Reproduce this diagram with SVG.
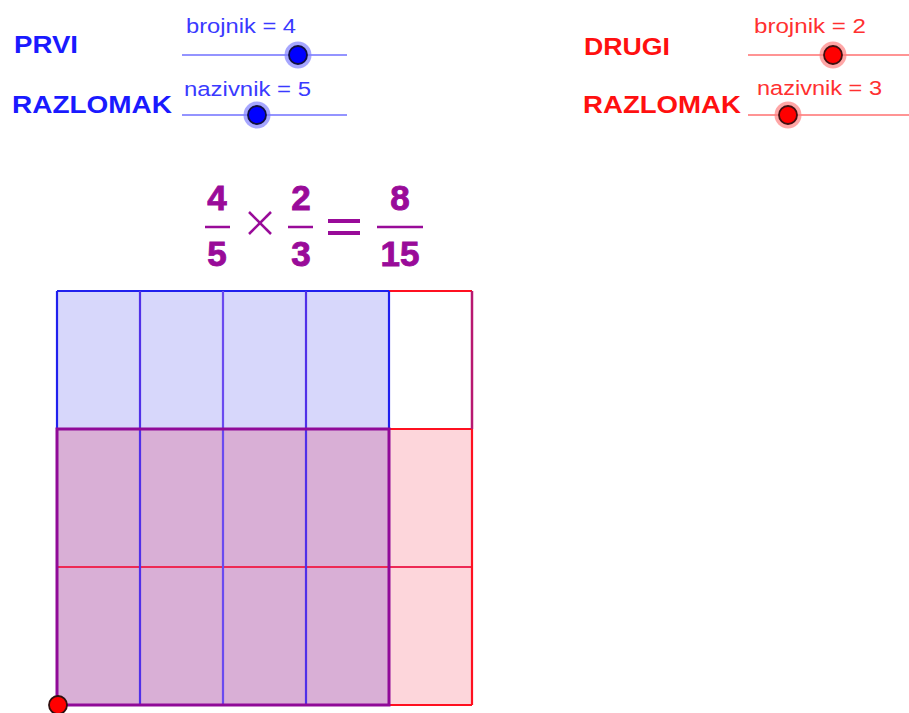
<svg xmlns="http://www.w3.org/2000/svg" width="909" height="713" viewBox="0 0 909 713">
<style>
.title{font-family:"Liberation Sans",Arial,sans-serif;font-weight:bold;font-size:23px}
.lbl{font-family:"Liberation Sans",Arial,sans-serif;font-size:20.5px}
.blue{fill:#1a1aff}
.red{fill:#ff1010}
.sb{stroke:#7070ff;stroke-width:1.5}
.sr{stroke:#ff7070;stroke-width:1.5}
.math{font-family:"Liberation Sans",Arial,sans-serif;font-weight:bold;font-size:35px;fill:#990b99;stroke:#990b99;stroke-width:0.9;text-anchor:middle}
.bar{stroke:#990b99;stroke-width:2.5}
</style>
<rect width="909" height="713" fill="#ffffff"/>

<g id="prvi-label">
<text class="title blue" x="14" y="53" textLength="64" lengthAdjust="spacingAndGlyphs">PRVI</text>
<text class="title blue" x="12" y="113" textLength="160" lengthAdjust="spacingAndGlyphs">RAZLOMAK</text>
</g>
<g id="drugi-label">
<text class="title red" x="584" y="55" textLength="86" lengthAdjust="spacingAndGlyphs">DRUGI</text>
<text class="title red" x="583" y="113" textLength="158" lengthAdjust="spacingAndGlyphs">RAZLOMAK</text>
</g>

<g id="slider-brojnik1">
<line class="sb" x1="182" y1="55" x2="347" y2="55"/>
<text class="lbl" x="186" y="33" fill="#3a3aff" textLength="110" lengthAdjust="spacingAndGlyphs">brojnik = 4</text>
<circle cx="298" cy="55" r="13.5" fill="#8080ff" opacity="0.7"/>
<circle cx="298" cy="55" r="9" fill="#0000ff" stroke="#101040" stroke-width="1.8"/>
</g>
<g id="slider-nazivnik1">
<line class="sb" x1="182" y1="115" x2="347" y2="115"/>
<text class="lbl" x="184" y="96" fill="#3a3aff" textLength="127" lengthAdjust="spacingAndGlyphs">nazivnik = 5</text>
<circle cx="257" cy="115" r="13.5" fill="#8080ff" opacity="0.7"/>
<circle cx="257" cy="115" r="9" fill="#0000ff" stroke="#101040" stroke-width="1.8"/>
</g>
<g id="slider-brojnik2">
<line class="sr" x1="748" y1="55" x2="909" y2="55"/>
<text class="lbl" x="754" y="33" fill="#ff3030" textLength="112" lengthAdjust="spacingAndGlyphs">brojnik = 2</text>
<circle cx="833" cy="55" r="13.5" fill="#ff8080" opacity="0.7"/>
<circle cx="833" cy="55" r="9" fill="#ff0000" stroke="#401010" stroke-width="1.8"/>
</g>
<g id="slider-nazivnik2">
<line class="sr" x1="748" y1="115" x2="909" y2="115"/>
<text class="lbl" x="757" y="95" fill="#ff3030" textLength="125" lengthAdjust="spacingAndGlyphs">nazivnik = 3</text>
<circle cx="788" cy="115" r="13.5" fill="#ff8080" opacity="0.7"/>
<circle cx="788" cy="115" r="9" fill="#ff0000" stroke="#401010" stroke-width="1.8"/>
</g>

<g id="formula">
<text class="math" x="217" y="210">4</text>
<line class="bar" x1="205" y1="227" x2="230" y2="227"/>
<text class="math" x="217" y="266">5</text>
<g stroke="#990b99" stroke-width="2.5"><line x1="249" y1="212" x2="271" y2="234"/><line x1="271" y1="212" x2="249" y2="234"/></g>
<text class="math" x="301" y="210">2</text>
<line class="bar" x1="288" y1="227" x2="313" y2="227"/>
<text class="math" x="301" y="266">3</text>
<rect x="328" y="219" width="32" height="4" fill="#990b99"/>
<rect x="328" y="231" width="32" height="4" fill="#990b99"/>
<text class="math" x="400" y="210">8</text>
<line class="bar" x1="377" y1="227" x2="423" y2="227"/>
<text class="math" x="400" y="266">15</text>
</g>

<g id="grid">
<rect x="57" y="291" width="332" height="138" fill="#d7d7fb"/>
<rect x="57" y="429" width="332" height="276" fill="#d9afd6"/>
<rect x="389" y="429" width="83" height="276" fill="#fdd6db"/>
<g stroke="#ff1020" stroke-width="2.2" fill="none">
<line x1="389" y1="291" x2="472" y2="291"/>
<line x1="389" y1="429" x2="472" y2="429"/>
<line x1="57" y1="567" x2="472" y2="567" stroke="#ee2a55"/>
<line x1="389" y1="705" x2="472" y2="705"/>
<line x1="472" y1="429" x2="472" y2="705"/>
</g>
<line x1="472" y1="291" x2="472" y2="429" stroke="#b81870" stroke-width="2.5"/>
<g stroke="#2020ee" stroke-width="2.2" fill="none">
<line x1="57" y1="291" x2="389" y2="291"/>
<line x1="57" y1="291" x2="57" y2="429"/>
<line x1="389" y1="291" x2="389" y2="429"/>
</g>
<g stroke="#5030e8" stroke-width="2.2">
<line x1="140" y1="291" x2="140" y2="705"/>
<line x1="223" y1="291" x2="223" y2="705" stroke="#6a4af0"/>
<line x1="306" y1="291" x2="306" y2="705"/>
</g>
<rect x="57" y="429" width="332" height="276" fill="none" stroke="#900a98" stroke-width="3"/>
<circle cx="58" cy="705" r="9" fill="#ff0000" stroke="#301010" stroke-width="1.8"/>
</g>
</svg>
